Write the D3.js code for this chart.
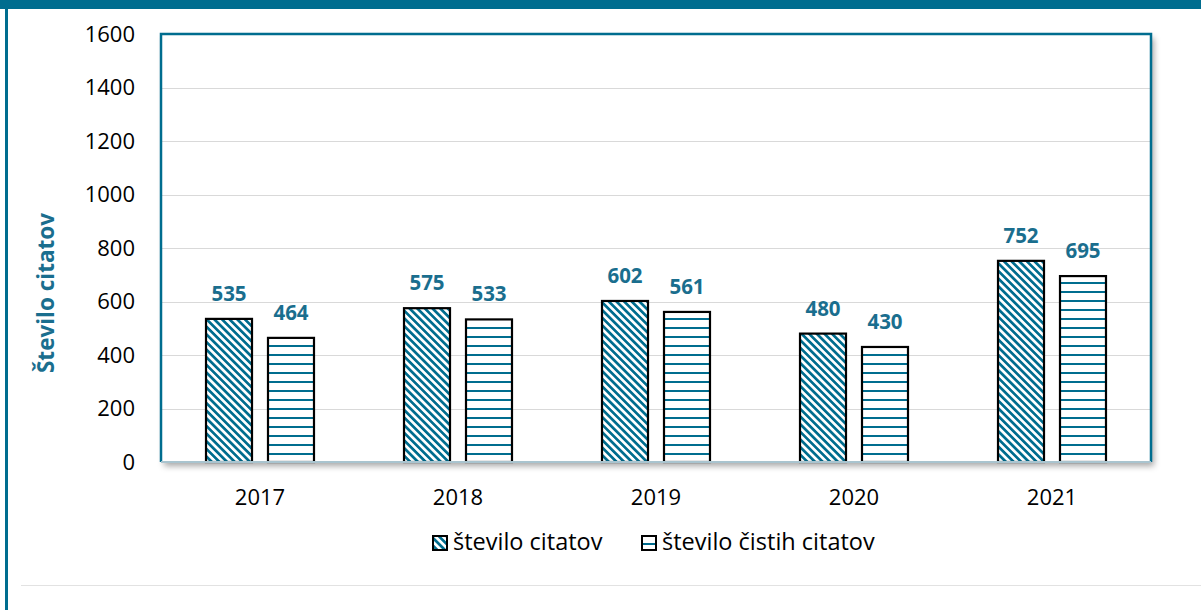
<!DOCTYPE html>
<html><head><meta charset="utf-8">
<script src="https://cdn.jsdelivr.net/npm/d3@7"></script>
<style>body{margin:0;background:#fff;}svg{display:block;font-family:"Open Sans",sans-serif;}</style>
</head><body>
<svg id="c" width="1201" height="610"></svg>
<script>
const years = ["2017","2018","2019","2020","2021"];
const citations = [535,575,602,480,752];
const cleanCitations = [464,533,561,430,695];
const seriesNames = ["število citatov","število čistih citatov"];
const yTicks = [0,200,400,600,800,1000,1200,1400,1600];

const teal = "#006d8f";
const svg = d3.select("#c");
const defs = svg.append("defs");

// patterns
const p1 = defs.append("pattern").attr("id","diag").attr("patternUnits","userSpaceOnUse")
  .attr("width",5.4).attr("height",5.4).attr("patternTransform","rotate(-45)");
p1.append("rect").attr("width",5.4).attr("height",5.4).attr("fill","#fff");
p1.append("rect").attr("width",2.7).attr("height",5.4).attr("fill",teal);
const p2 = defs.append("pattern").attr("id","horiz").attr("patternUnits","userSpaceOnUse")
  .attr("width",8).attr("height",9);
p2.append("rect").attr("width",8).attr("height",9).attr("fill","#fff");
p2.append("rect").attr("y",3).attr("width",8).attr("height",2).attr("fill",teal);
const flt = defs.append("filter").attr("id","sh").attr("x","-5%").attr("y","-5%").attr("width","115%").attr("height","120%");
flt.append("feDropShadow").attr("dx",3).attr("dy",4).attr("stdDeviation",3).attr("flood-color","#000").attr("flood-opacity",0.35);

// outer frame
svg.append("rect").attr("x",0).attr("y",0).attr("width",1201).attr("height",9).attr("fill",teal);
svg.append("rect").attr("x",5).attr("y",0).attr("width",3).attr("height",610).attr("fill",teal);
svg.append("line").attr("x1",21).attr("x2",1201).attr("y1",585.5).attr("y2",585.5).attr("stroke","#e2e2e2").attr("stroke-width",1);

const L=161,R=1151,T=34,B=462;
const x = d3.scaleBand().domain(years).range([L,R]);
const y = d3.scaleLinear().domain([0,1600]).range([B,T]);

// plot frame with shadow
svg.append("rect").attr("x",L).attr("y",T).attr("width",R-L).attr("height",B-T)
  .attr("fill","#fff").attr("filter","url(#sh)");

// gridlines
svg.append("g").selectAll("line").data(yTicks.slice(1,-1)).join("line")
  .attr("x1",L).attr("x2",R).attr("y1",d=>Math.round(y(d))+0.5).attr("y2",d=>Math.round(y(d))+0.5)
  .attr("stroke","#d9d9d9").attr("stroke-width",1);

// y axis labels
const yAxis = d3.axisLeft(y).tickValues(yTicks).tickFormat(d3.format("d")).tickSize(0).tickPadding(0);
const gy = svg.append("g").attr("transform",`translate(${L-26},0)`).call(yAxis);
gy.select(".domain").remove();
gy.selectAll("text").attr("font-size",22).attr("dy","0.34em").attr("fill","#000").attr("font-family","Open Sans");

// x axis labels
const xAxis = d3.axisBottom(x).tickSize(0).tickPadding(0);
const gx = svg.append("g").attr("transform",`translate(0,${B+27})`).call(xAxis);
gx.select(".domain").remove();
gx.selectAll("text").attr("font-size",22).attr("fill","#000").attr("font-family","Open Sans");

// bars
const inner = d3.scaleBand().domain([0,1]).range([0,x.bandwidth()]).paddingInner(0.258).paddingOuter(0.726);
const data = years.flatMap((yr,i)=>[
  {yr, s:0, v:citations[i]}, {yr, s:1, v:cleanCitations[i]}
]);
const bars = svg.append("g");
bars.selectAll("rect").data(data).join("rect")
  .attr("x",d=>x(d.yr)+inner(d.s)).attr("width",inner.bandwidth())
  .attr("y",d=>y(d.v)).attr("height",d=>B-y(d.v))
  .attr("fill",d=>d.s===0?"url(#diag)":"url(#horiz)")
  .attr("stroke","#000").attr("stroke-width",2.2);

// value labels
bars.selectAll("text").data(data).join("text")
  .attr("x",d=>x(d.yr)+inner(d.s)+inner.bandwidth()/2)
  .attr("y",d=>y(d.v)-18)
  .attr("text-anchor","middle").attr("font-size",20.5).attr("font-weight","bold")
  .attr("fill","#1a6e8e").text(d=>d.v);

// plot border
svg.append("path").attr("d",`M${L},${B}V${T}H${R}V${B}`).attr("fill","none").attr("stroke",teal).attr("stroke-width",2.5);
svg.append("line").attr("x1",L).attr("x2",R).attr("y1",B).attr("y2",B).attr("stroke","#a9c4cf").attr("stroke-width",2);

// y title
svg.append("text").attr("transform","translate(54,293) rotate(-90)")
  .attr("text-anchor","middle").attr("font-size",22.5).attr("font-weight","bold").attr("fill","#1a6e8e")
  .text("Število citatov");

// legend
const lg = svg.append("g");
const legendX = [432,641];
seriesNames.forEach((n,i)=>{
  lg.append("rect").attr("x",legendX[i]+1).attr("y",536).attr("width",14).attr("height",14)
    .attr("fill",i===0?"url(#diag)":"url(#horiz)").attr("stroke","#000").attr("stroke-width",2);
  lg.append("text").attr("x",legendX[i]+21).attr("y",550).attr("font-size",23.5).attr("fill","#000").text(n);
});
</script>
</body></html>
